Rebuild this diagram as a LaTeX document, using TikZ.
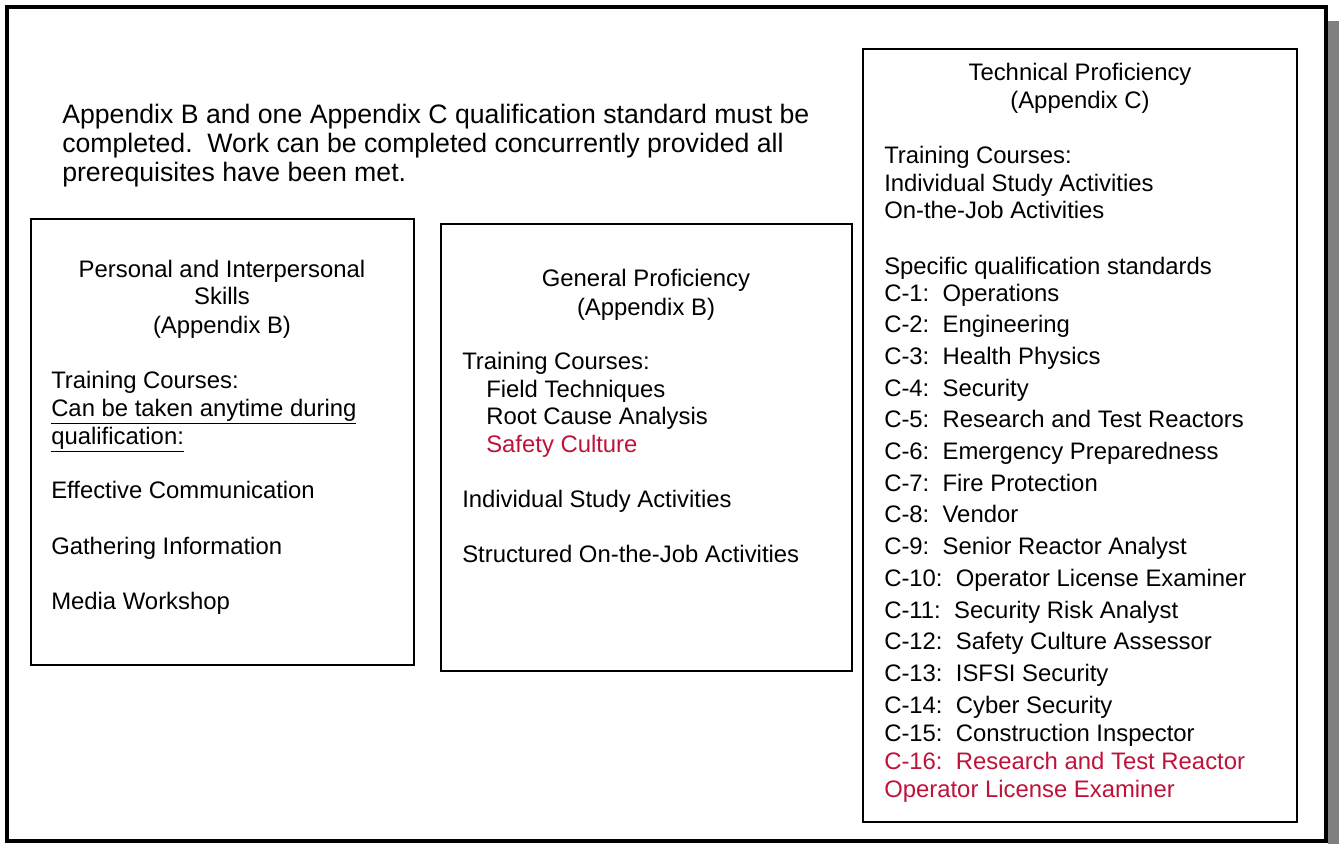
\documentclass[tikz,border=0pt]{standalone}
\usepackage{fontspec}
\setmainfont{Liberation Sans}
\usepackage{xcolor}
\definecolor{markred}{RGB}{190,18,58}
\definecolor{shadowgrey}{gray}{0.5}
\usetikzlibrary{positioning}

\begin{document}
\begin{tikzpicture}[
    x=0.75pt, y=-0.75pt,
    frame/.style={draw=black, line width=3pt},
    box/.style={draw=black, line width=1.3pt},
    txt/.style={anchor=west, inner sep=0pt, text height=13pt, text depth=4pt, font=\fontsize{17.9pt}{21pt}\selectfont},
    notetxt/.style={txt, font=\fontsize{20pt}{24pt}\selectfont},
    head/.style={txt, anchor=center},
    redtxt/.style={txt, text=markred}
  ]
    \useasboundingbox (0,0) rectangle (1339,844);

    % Outer frame with its shadow
    \fill[shadowgrey] (1328,21) rectangle (1339,844);
    \draw[frame] (7,7) rectangle (1326,841);

    % Note above the boxes
    \node[notetxt] (note1) at (62,117) {Appendix B and one Appendix C qualification standard must be};
    \node[notetxt] (note2) at (62,146) {completed.\ \ Work can be completed concurrently provided all};
    \node[notetxt] (note3) at (62,175) {prerequisites have been met.};

    % Personal and interpersonal skills
    \draw[box] (31,219) rectangle (414,665);
    \node[head] (pers1) at (222,271) {Personal and Interpersonal};
    \node[head] (pers2) at (222,298) {Skills};
    \node[head] (pers3) at (222,327) {(Appendix B)};
    \node[txt] (perstc) at (51,382) {Training Courses:};
    \node[txt] (persany1) at (51,410) {\underline{Can be taken anytime during}};
    \node[txt] (persany2) at (51,438) {\underline{qualification:}};
    \node[txt] (perscom) at (51,492) {Effective Communication};
    \node[txt] (persinfo) at (51,548) {Gathering Information};
    \node[txt] (persmedia) at (51,603) {Media Workshop};

    % General proficiency
    \draw[box] (441,224) rectangle (852,671);
    \node[head] (gen1) at (646,280) {General Proficiency};
    \node[head] (gen2) at (646,309) {(Appendix B)};
    \node[txt] (gentc) at (462,363) {Training Courses:};
    \node[txt] (genfield) at (486,391) {Field Techniques};
    \node[txt] (genroot) at (486,418) {Root Cause Analysis};
    \node[redtxt] (gensafe) at (486,446) {Safety Culture};
    \node[txt] (genstudy) at (462,501) {Individual Study Activities};
    \node[txt] (genojt) at (462,556) {Structured On-the-Job Activities};

    % Technical proficiency
    \draw[box] (863,49) rectangle (1297,822);
    \node[head] (tech1) at (1080,74) {Technical Proficiency};
    \node[head] (tech2) at (1080,102) {(Appendix C)};
    \node[txt] (techtc) at (884,157) {Training Courses:};
    \node[txt] (techstudy) at (884,185) {Individual Study Activities};
    \node[txt] (techojt) at (884,212) {On-the-Job Activities};
    \node[txt] (techspec) at (884,268) {Specific qualification standards};
    \foreach \n/\qual in {1/Operations, 2/Engineering, 3/Health Physics, 4/Security,
        5/Research and Test Reactors, 6/Emergency Preparedness, 7/Fire Protection,
        8/Vendor, 9/Senior Reactor Analyst, 10/Operator License Examiner,
        11/Security Risk Analyst, 12/Safety Culture Assessor, 13/ISFSI Security,
        14/Cyber Security}
      \node[txt] (cq\n) at (884,{295+31.7*(\n-1)}) {C-\n:\ \ \qual};
    \node[txt] (cq15) at (884,735) {C-15:\ \ Construction Inspector};
    \node[redtxt] (cq16) at (884,763) {C-16:\ \ Research and Test Reactor};
    \node[redtxt] (cq16b) at (884,791) {Operator License Examiner};
\end{tikzpicture}
\end{document}
